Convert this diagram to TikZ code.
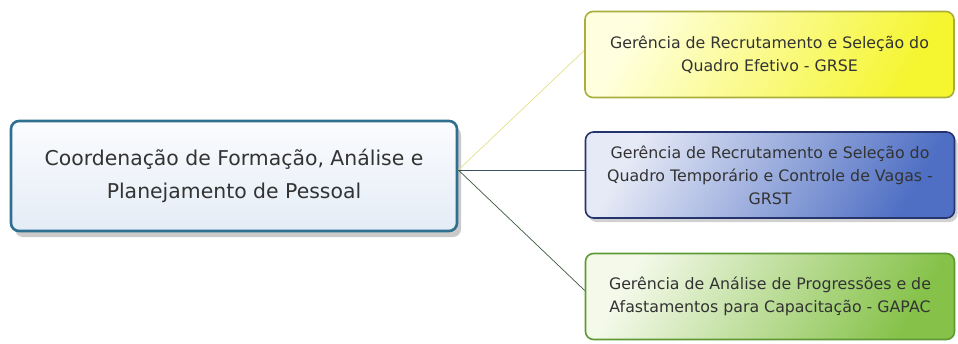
\documentclass[tikz,border=0pt]{standalone}
\usepackage{fontspec}
\setmainfont{DejaVu Sans}
\usetikzlibrary{shadows,calc}
\definecolor{maintxt}{HTML}{333333}
\definecolor{mainborder}{HTML}{2F6F8F}
\definecolor{mainfillA}{HTML}{FBFCFE}
\definecolor{mainfillB}{HTML}{E4ECF6}
\definecolor{ylwborder}{HTML}{A9AE3C}
\definecolor{ylwA}{HTML}{FFFFE0}
\definecolor{ylwB}{HTML}{F5F530}
\definecolor{bluborder}{HTML}{26346E}
\definecolor{bluA}{HTML}{E6EAF6}
\definecolor{bluB}{HTML}{4F6FC4}
\definecolor{grnborder}{HTML}{5E9A34}
\definecolor{grnA}{HTML}{F4F9EA}
\definecolor{grnB}{HTML}{86C24A}
\definecolor{lineY}{HTML}{E2E08A}
\definecolor{lineB}{HTML}{3C5060}
\definecolor{lineG}{HTML}{3C5A3C}
\begin{document}
\begin{tikzpicture}[x=1pt,y=-1pt,
  box/.style={rounded corners=8pt, align=center, inner sep=0pt, text=maintxt},
  sub/.style={box, line width=1.6pt, minimum width=369pt, minimum height=86pt,
     font=\fontsize{15.8}{23}\selectfont},
  conn/.style={line width=0.7pt}
]
\useasboundingbox (0,0) rectangle (958,343);
\node[box, line width=2.6pt, draw=mainborder, top color=mainfillA, bottom color=mainfillB,
  minimum width=446pt, minimum height=110pt,
  font=\fontsize{20.4}{33}\selectfont,
  drop shadow={shadow xshift=4pt, shadow yshift=-6pt, opacity=0.35, fill=black!60}]
  (main) at (234,176) {Coordenação de Formação, Análise e\\Planejamento de Pessoal};
\node[sub, draw=ylwborder, top color=ylwA, bottom color=ylwB, shading angle=60] (grse) at (769.5,54.5)
  {Gerência de Recrutamento e Seleção do\\Quadro Efetivo - GRSE};
\node[sub, draw=bluborder, top color=bluA, bottom color=bluB, shading angle=60,
  drop shadow={shadow xshift=3pt, shadow yshift=-4pt, opacity=0.3, fill=black!60}] (grst) at (770,175)
  {Gerência de Recrutamento e Seleção do\\Quadro Temporário e Controle de Vagas -\\GRST};
\node[sub, draw=grnborder, top color=grnA, bottom color=grnB, shading angle=60] (gapac) at (770,296.5)
  {Gerência de Análise de Progressões e de\\Afastamentos para Capacitação - GAPAC};
\coordinate (hub) at ([yshift=6pt]main.east);
\draw[conn, lineY] (hub) -- ([yshift=4pt]grse.west);
\draw[conn, lineB] (hub) -- ([yshift=5pt]grst.west);
\draw[conn, lineG] (hub) -- ([yshift=6pt]gapac.west);
\end{tikzpicture}
\end{document}
